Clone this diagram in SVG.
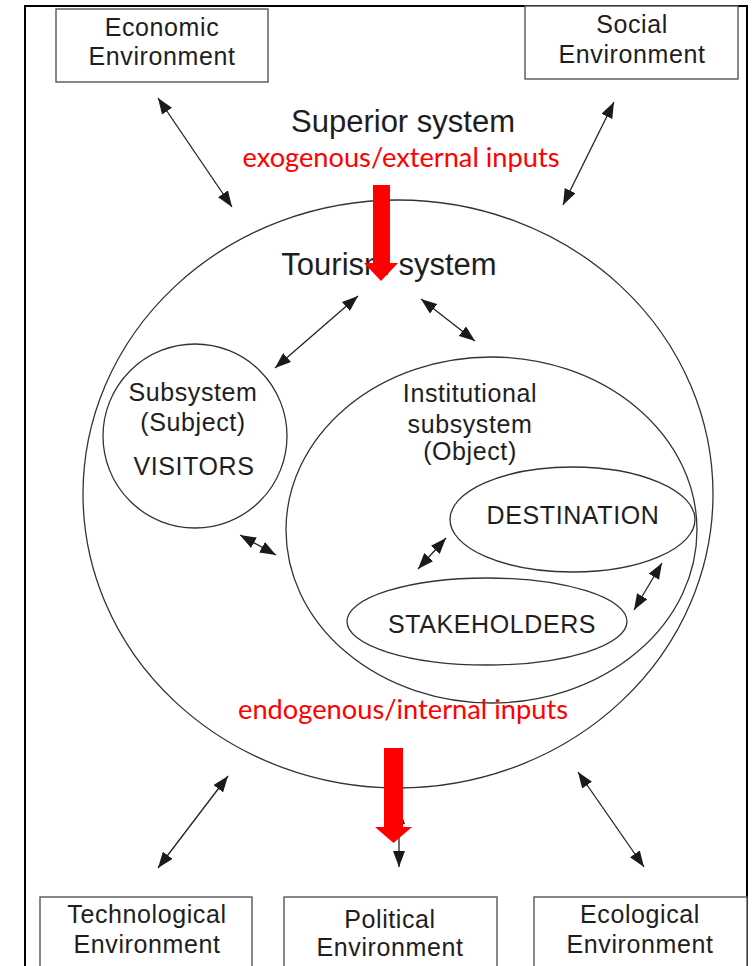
<svg xmlns="http://www.w3.org/2000/svg" width="756" height="966" viewBox="0 0 756 966">
<style>
.box{fill:#fff;stroke:#555;stroke-width:1.4}
.shape{fill:none;stroke:#333;stroke-width:1.3}
.lbl{font-family:"Liberation Sans",Arial,sans-serif;font-size:25px;fill:#1e1e1e;text-anchor:middle;letter-spacing:0.6px}
.big{font-family:"Liberation Sans",Arial,sans-serif;font-size:31px;fill:#1e1e1e;text-anchor:middle}
.red{font-family:Lato,"Open Sans",sans-serif;font-size:27px;fill:#ff0000;text-anchor:middle}
.con{stroke:#222;stroke-width:1.3;fill:none;marker-start:url(#ah);marker-end:url(#ah)}
.bigarrow{fill:#ff0000}
</style>
<defs>
<marker id="ah" markerUnits="userSpaceOnUse" markerWidth="16" markerHeight="12" refX="16" refY="6" orient="auto-start-reverse" viewBox="0 0 16 12">
<path d="M0,0 L16,6 L0,12 z" fill="#1a1a1a"/>
</marker>
</defs>
<rect x="0" y="0" width="756" height="966" fill="#fff"/>
<rect id="frame" x="25" y="6" width="722" height="980" fill="none" stroke="#000" stroke-width="2"/>

<g id="economic">
<rect class="box" x="56" y="9" width="212" height="73"/>
<text class="lbl" x="162" y="36">Economic</text>
<text class="lbl" x="162" y="65">Environment</text>
</g>
<g id="social">
<rect class="box" x="525" y="6" width="213" height="73"/>
<text class="lbl" x="632" y="33">Social</text>
<text class="lbl" x="632" y="63">Environment</text>
</g>
<g id="superior">
<text class="big" x="403" y="132">Superior system</text>
</g>
<g id="exogenous">
<text class="red" x="401" y="167" textLength="317" lengthAdjust="spacingAndGlyphs">exogenous/external inputs</text>
</g>

<g id="tourism">
<ellipse class="shape" cx="398" cy="494" rx="315" ry="294"/>
<text class="big" x="389" y="275">Tourism system</text>
</g>
<g id="visitors">
<circle class="shape" cx="195" cy="436" r="92"/>
<text class="lbl" x="193" y="401">Subsystem</text>
<text class="lbl" x="193" y="431">(Subject)</text>
<text class="lbl" x="194" y="475">VISITORS</text>
</g>
<g id="institutional">
<ellipse class="shape" cx="491.5" cy="530" rx="205.5" ry="173"/>
<text class="lbl" x="470" y="402">Institutional</text>
<text class="lbl" x="470" y="433">subsystem</text>
<text class="lbl" x="470" y="460">(Object)</text>
</g>
<g id="destination">
<ellipse class="shape" cx="572.5" cy="519.5" rx="122.5" ry="52.5"/>
<text class="lbl" x="573" y="524">DESTINATION</text>
</g>
<g id="stakeholders">
<ellipse class="shape" cx="487" cy="621.5" rx="140" ry="43.5"/>
<text class="lbl" x="492" y="633">STAKEHOLDERS</text>
</g>
<g id="endogenous">
<text class="red" x="403" y="719" textLength="330" lengthAdjust="spacingAndGlyphs">endogenous/internal inputs</text>
</g>

<g id="technological">
<rect class="box" x="40" y="897" width="212" height="80"/>
<text class="lbl" x="147" y="923">Technological</text>
<text class="lbl" x="147" y="953">Environment</text>
</g>
<g id="political">
<rect class="box" x="284" y="897" width="213" height="80"/>
<text class="lbl" x="390" y="928">Political</text>
<text class="lbl" x="390" y="956">Environment</text>
</g>
<g id="ecological">
<rect class="box" x="534" y="897" width="213" height="80"/>
<text class="lbl" x="640" y="923">Ecological</text>
<text class="lbl" x="640" y="953">Environment</text>
</g>

<g id="connectors">
<line class="con" x1="158" y1="98" x2="232" y2="207"/>
<line class="con" x1="614" y1="102" x2="563" y2="205"/>
<line class="con" x1="358" y1="296" x2="275" y2="368"/>
<line class="con" x1="421" y1="299" x2="475" y2="341"/>
<line class="con" x1="240" y1="535" x2="276" y2="555"/>
<line class="con" x1="446" y1="538" x2="418" y2="569"/>
<line class="con" x1="662" y1="563" x2="634" y2="610"/>
<line class="con" x1="228" y1="776" x2="158" y2="868"/>
<line class="con" x1="578" y1="772" x2="644" y2="867"/>
<line class="con" x1="399" y1="808" x2="399" y2="867"/>
</g>

<g id="input-arrows">
<polygon class="bigarrow" points="373,185 390,185 390,263 398,263 381,281 364,263 373,263"/>
<polygon class="bigarrow" points="384,748 403,748 403,827 412,827 393.5,843 375,827 384,827"/>
</g>
</svg>
